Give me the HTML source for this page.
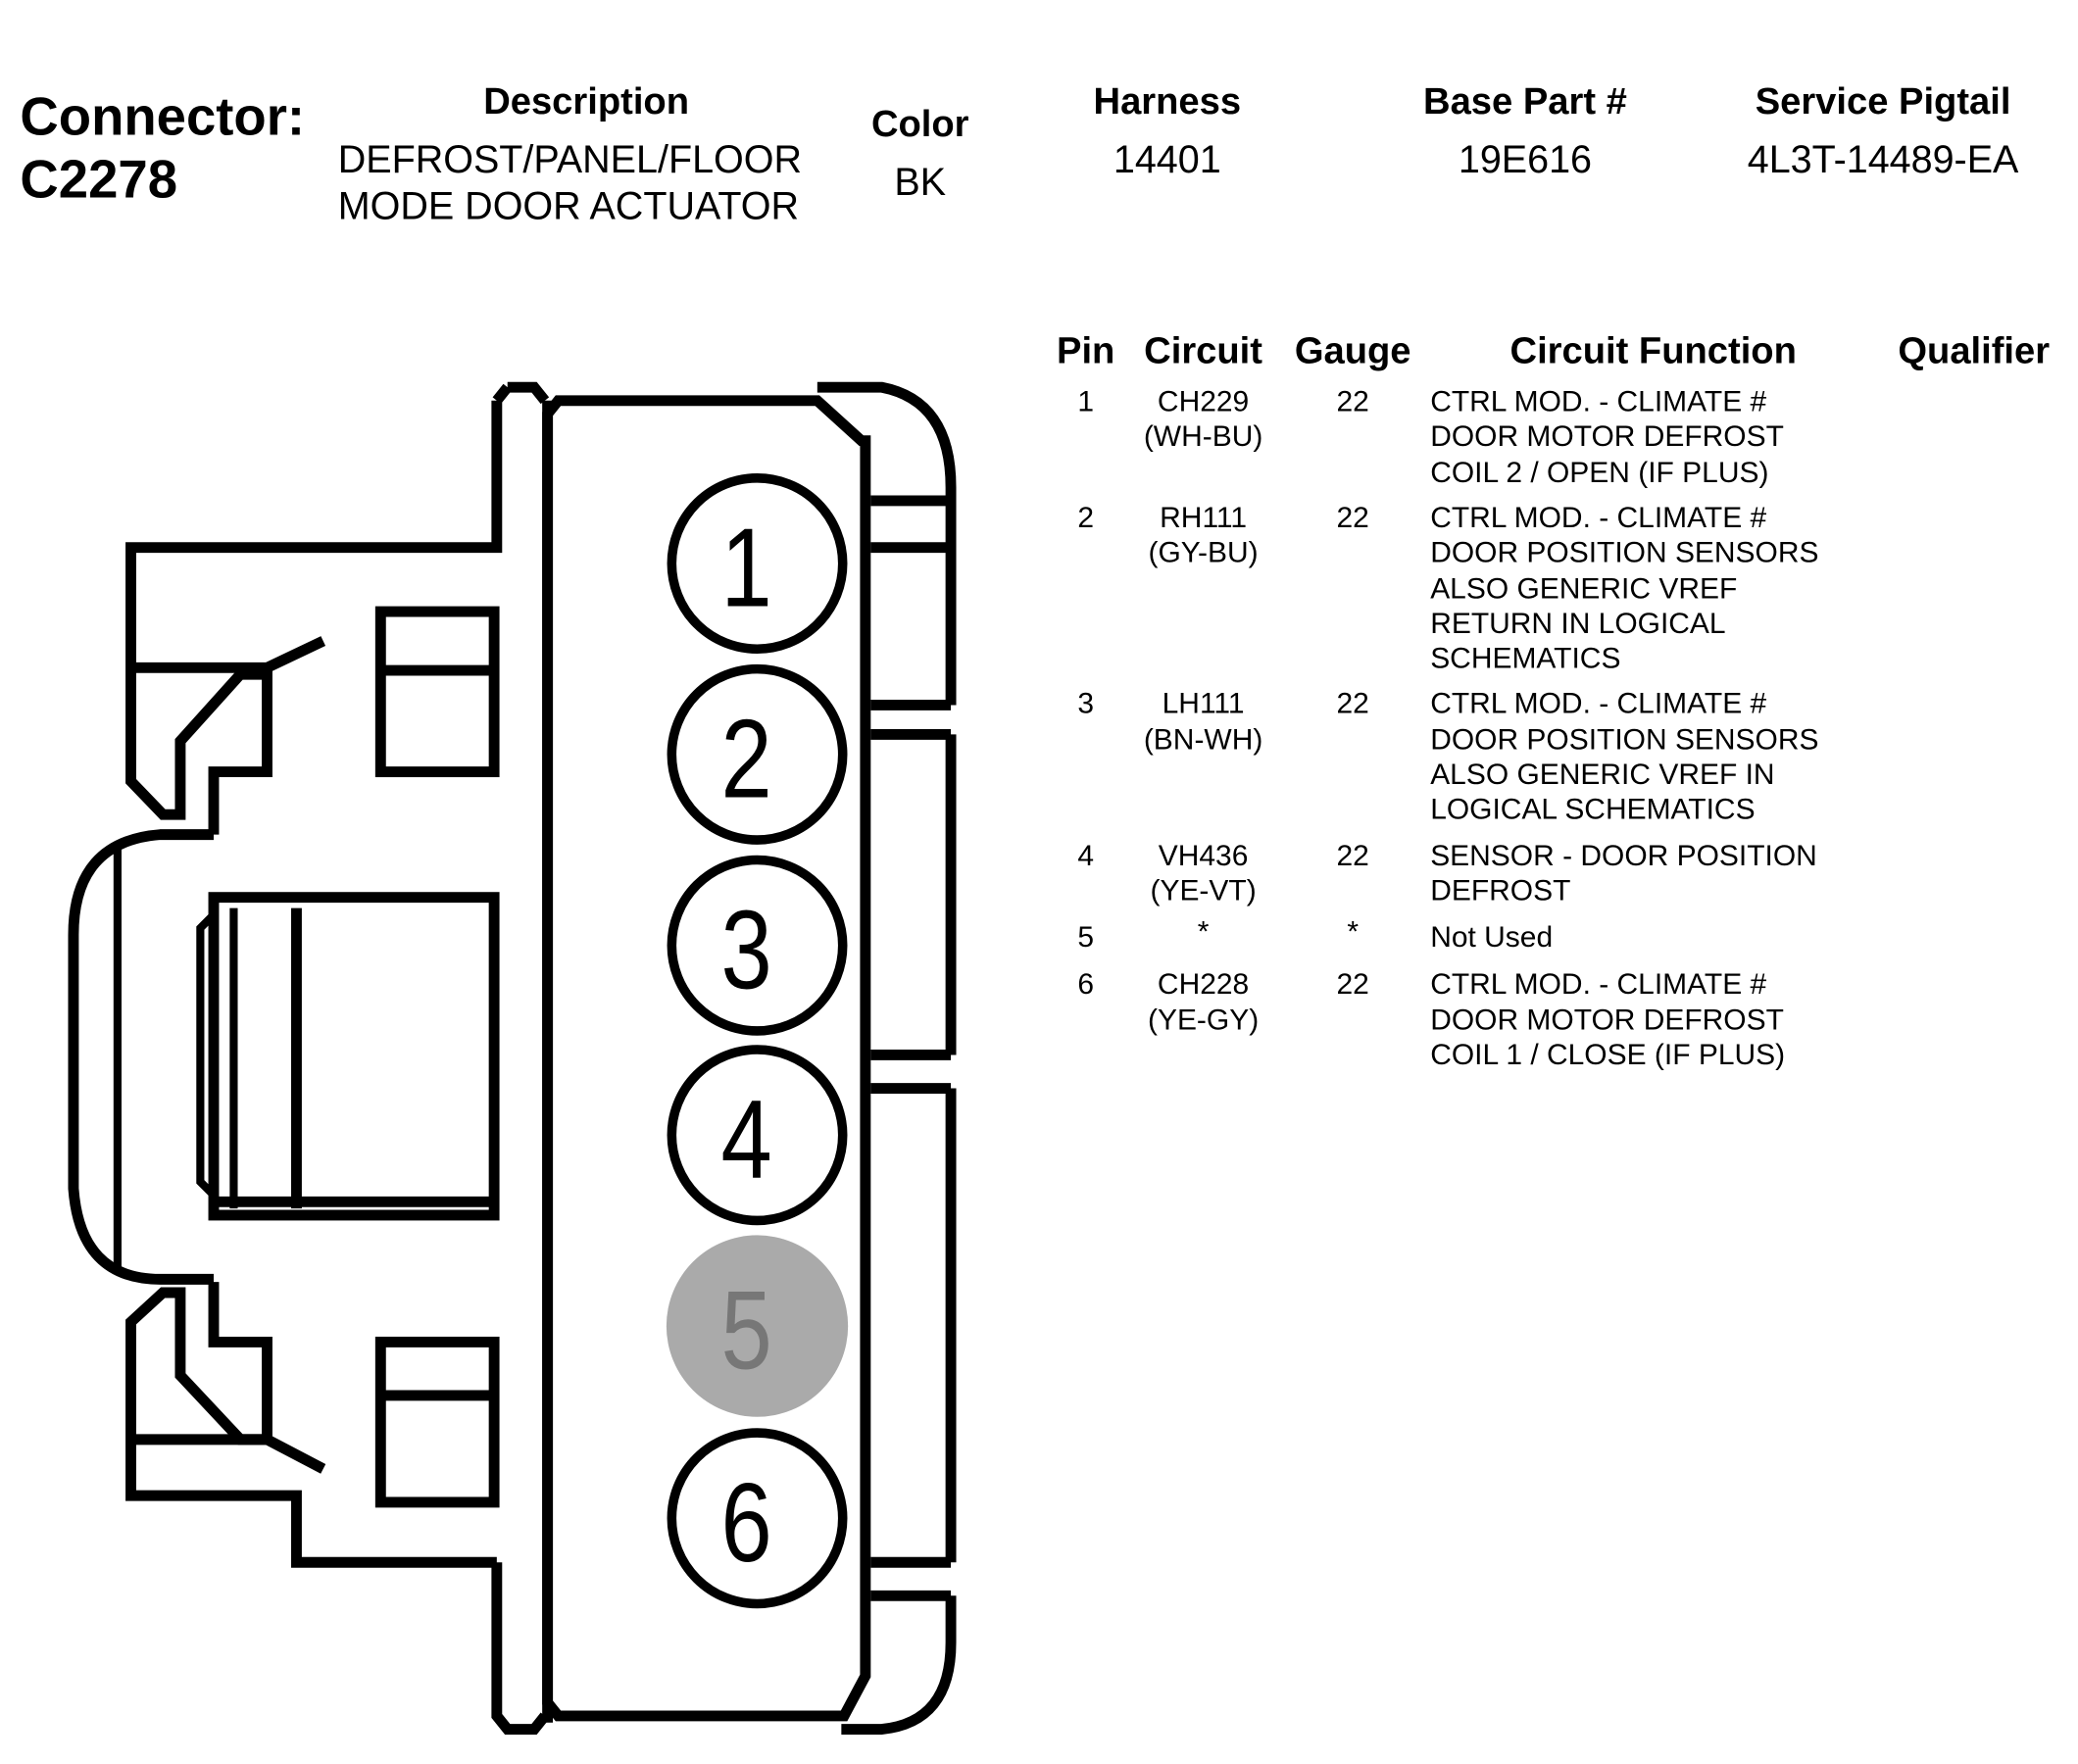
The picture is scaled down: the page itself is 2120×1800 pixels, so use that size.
<!DOCTYPE html>
<html><head><meta charset="utf-8"><style>
html,body{margin:0;padding:0;background:#fff;}
svg{display:block;}
text{font-family:"Liberation Sans",Arial,sans-serif;fill:#000;}
.b{font-weight:bold;}
</style></head><body>
<svg width="2120" height="1800" viewBox="0 0 1556 1321" preserveAspectRatio="none" xmlns="http://www.w3.org/2000/svg">
<rect width="1556" height="1321" fill="#fff"/>
<text class="b" x="15" y="101" font-size="40">Connector:</text>
<text class="b" x="15" y="148" font-size="40">C2278</text>
<g font-size="28" text-anchor="middle">
<text class="b" x="439" y="85">Description</text>
<text class="b" x="689" y="102">Color</text>
<text class="b" x="874" y="85">Harness</text>
<text class="b" x="1142" y="85">Base Part #</text>
<text class="b" x="1410" y="85">Service Pigtail</text>
</g>
<g font-size="29">
<text x="253" y="129">DEFROST/PANEL/FLOOR</text>
<text x="253" y="164">MODE DOOR ACTUATOR</text>
<text x="689" y="146" text-anchor="middle">BK</text>
<text x="874" y="129" text-anchor="middle">14401</text>
<text x="1142" y="129" text-anchor="middle">19E616</text>
<text x="1410" y="129" text-anchor="middle">4L3T-14489-EA</text>
</g>
<g font-size="28" text-anchor="middle">
<text class="b" x="813" y="272">Pin</text>
<text class="b" x="901" y="272">Circuit</text>
<text class="b" x="1013" y="272">Gauge</text>
<text class="b" x="1238" y="272">Circuit Function</text>
<text class="b" x="1478" y="272">Qualifier</text>
</g>
<g font-size="22">
<g text-anchor="middle">
<text x="813" y="308">1</text><text x="901" y="308">CH229</text><text x="901" y="334">(WH-BU)</text><text x="1013" y="308">22</text>
<text x="813" y="395">2</text><text x="901" y="395">RH111</text><text x="901" y="421">(GY-BU)</text><text x="1013" y="395">22</text>
<text x="813" y="534">3</text><text x="901" y="534">LH111</text><text x="901" y="561">(BN-WH)</text><text x="1013" y="534">22</text>
<text x="813" y="648">4</text><text x="901" y="648">VH436</text><text x="901" y="674">(YE-VT)</text><text x="1013" y="648">22</text>
<text x="813" y="709">5</text><text x="901" y="705">*</text><text x="1013" y="705">*</text>
<text x="813" y="744">6</text><text x="901" y="744">CH228</text><text x="901" y="771">(YE-GY)</text><text x="1013" y="744">22</text>
</g>
<text x="1071" y="308">CTRL MOD. - CLIMATE #</text>
<text x="1071" y="334">DOOR MOTOR DEFROST</text>
<text x="1071" y="361">COIL 2 / OPEN (IF PLUS)</text>
<text x="1071" y="395">CTRL MOD. - CLIMATE #</text>
<text x="1071" y="421">DOOR POSITION SENSORS</text>
<text x="1071" y="448">ALSO GENERIC VREF</text>
<text x="1071" y="474">RETURN IN LOGICAL</text>
<text x="1071" y="500">SCHEMATICS</text>
<text x="1071" y="534">CTRL MOD. - CLIMATE #</text>
<text x="1071" y="561">DOOR POSITION SENSORS</text>
<text x="1071" y="587">ALSO GENERIC VREF IN</text>
<text x="1071" y="613">LOGICAL SCHEMATICS</text>
<text x="1071" y="648">SENSOR - DOOR POSITION</text>
<text x="1071" y="674">DEFROST</text>
<text x="1071" y="709">Not Used</text>
<text x="1071" y="744">CTRL MOD. - CLIMATE #</text>
<text x="1071" y="771">DOOR MOTOR DEFROST</text>
<text x="1071" y="797">COIL 1 / CLOSE (IF PLUS)</text>
</g>
<g fill="none" stroke="#000" stroke-width="8" stroke-linejoin="miter">
<path d="M380,290 L400,290 L408,300 M372,300 L380,290 M372,300 L372,410 L98,410 L98,585 L122,610 L135,610 L135,555 L180,505 L200,505 L200,578 L160,578 L160,625"/>
<path d="M98,500 L200,500 L242,480"/>
<path d="M372,1170 L372,1285 L380,1295 L400,1295 L408,1285"/>
<path d="M372,1170 L222,1170 L222,1120 L98,1120 L98,990 L122,968 L135,968 L135,1030 L180,1078 L200,1078 L200,1005 L160,1005 L160,960"/>
<path d="M98,1078 L200,1078 L242,1100"/>
<path d="M410,310 L418,300 L612,300 L645,330 L648,330 L648,1255 L632,1285 L418,1285 L410,1275 Z"/>
<line x1="410" y1="300" x2="410" y2="1290"/>
<path d="M612,290 L660,290 Q712,300 712,365 L712,528"/>
<path d="M712,550 L712,790 M712,815 L712,1170 M712,1195 L712,1230 Q712,1290 660,1295 L630,1295"/>
<path d="M652,375 L712,375 M652,410 L712,410 M652,528 L712,528 M652,550 L712,550 M652,790 L712,790 M652,815 L712,815 M652,1170 L712,1170 M652,1195 L712,1195"/>
<path d="M160,625 L120,625 Q55,630 55,700 L55,890 Q60,958 120,958 L160,958"/>
<line x1="88" y1="635" x2="88" y2="950" stroke-width="6"/>
<rect x="160" y="672" width="210" height="238"/>
<line x1="160" y1="900" x2="370" y2="900"/>
<line x1="175" y1="680" x2="175" y2="905" stroke-width="6"/>
<line x1="222" y1="680" x2="222" y2="905"/>
<path d="M160,685 L150,695 L150,885 L160,895" stroke-width="6"/>
<rect x="285" y="458" width="85" height="120"/>
<line x1="285" y1="502" x2="370" y2="502"/>
<rect x="285" y="1005" width="85" height="120"/>
<line x1="285" y1="1045" x2="370" y2="1045"/>
</g>
<g stroke="#000" stroke-width="7" fill="#fff">
<circle cx="567" cy="422" r="64"/>
<circle cx="567" cy="565" r="64"/>
<circle cx="567" cy="708" r="64"/>
<circle cx="567" cy="850" r="64"/>
<circle cx="567" cy="1137" r="64"/>
</g>
<circle cx="567" cy="993" r="68" fill="#aaa"/>
<g font-size="84" text-anchor="middle" transform="translate(559,0) scale(0.82,1)">
<text x="0" y="454">1</text>
<text x="0" y="597">2</text>
<text x="0" y="740">3</text>
<text x="0" y="882">4</text>
<text x="0" y="1025" style="fill:#777">5</text>
<text x="0" y="1169">6</text>
</g>
</svg>
</body></html>
